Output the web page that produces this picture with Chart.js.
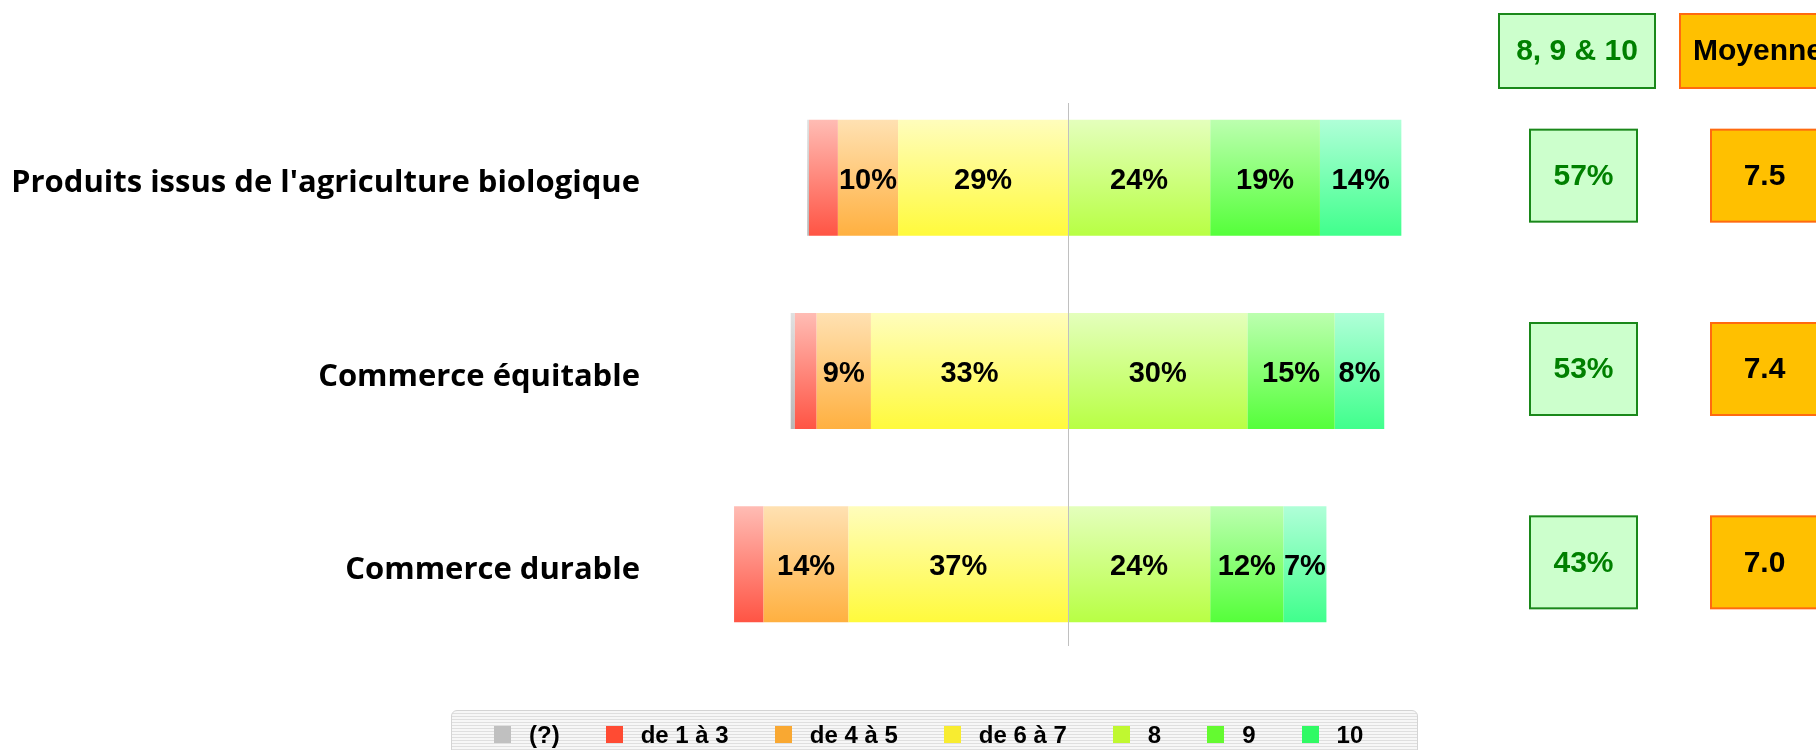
<!DOCTYPE html>
<html>
<head>
<meta charset="utf-8">
<script src="https://cdn.jsdelivr.net/npm/chart.js@4.4.1/dist/chart.umd.min.js"></script>
<style>
  body { margin: 0; background: #fff; }
  #wrap { position: relative; width: 1816px; height: 750px; overflow: hidden; }
  #legend {
    position: absolute; left: 451px; top: 710px; width: 967px; height: 60px;
    box-sizing: border-box; border: 1px solid #d4d4d4; border-radius: 6px 6px 0 0;
    background: repeating-linear-gradient(to bottom, #f7f7f7 0, #f7f7f7 2px, #dfdfdf 2px, #dfdfdf 3px);
    display: flex; align-items: flex-start; gap: 46px; padding: 15px 0 0 42px;
    font: bold 24px "Liberation Sans", Arial, sans-serif; color: #000;
  }
  .item { display: flex; align-items: center; gap: 18px; height: 17px; }
  .swatch { width: 17px; height: 17px; }
</style>
</head>
<body>
<div id="wrap">
  <canvas id="chart" width="1816" height="750"></canvas>
  <div id="legend"></div>
</div>
<script>
// Répartition des notes (en %) par thème
const categories = ["Produits issus de l'agriculture biologique", 'Commerce équitable', 'Commerce durable'];
const seriesNames = ['(?)', 'de 1 à 3', 'de 4 à 5', 'de 6 à 7', '8', '9', '10'];
const unknown  = [0.3, 0.7, 0];
const note1to3 = [4.9, 3.7, 5.0];
const note4to5 = [10.2, 9.2, 14.4];
const note6to7 = [28.8, 33.4, 37.2];
const note8    = [24.1, 30.4, 24.1];
const note9    = [18.6, 14.8, 12.4];
const note10   = [13.8, 8.4, 7.3];

// Colonnes de droite
const headerTop = '8, 9 & 10';
const headerAvg = 'Moyenne';
const top3 = [57, 53, 43];
const average = [7.5, 7.4, 7.0];

const xMin = -60, xMax = 60;

// couleurs : légende, haut et bas du dégradé des barres
const solid  = ['#c0c0c0', '#ff4b33', '#f9a832', '#f8ec30', '#c0f830', '#64fa30', '#30fa64'];
const lightC = ['#e0e0e0', '#ffbcb4', '#ffe1b2', '#fffdbc', '#e4ffbc', '#bcffaf', '#b0ffd8'];
const darkC  = ['#b8b8b8', '#ff5444', '#ffb040', '#fffa3c', '#b8ff44', '#55ff3a', '#40ff8c'];
const values = [unknown, note1to3, note4to5, note6to7, note8, note9, note10];
const side   = [-1, -1, -1, -1, 1, 1, 1];
// ordre d'empilement : du centre vers l'extérieur
const stackOrder = [3, 2, 1, 0, 4, 5, 6];

const BAR_PCT = 0.6;
const FONT = '"Liberation Sans", Arial, sans-serif';

// légende en bas
const legend = document.getElementById('legend');
seriesNames.forEach((name, k) => {
  const item = document.createElement('div');
  item.className = 'item';
  item.innerHTML = '<span class="swatch" style="background:' + solid[k] + '"></span><span>' + name + '</span>';
  legend.appendChild(item);
});

function barFill(k) {
  return ctx => {
    const y = ctx.chart.scales.y;
    if (!y || ctx.dataIndex === undefined) return solid[k];
    const c = y.getPixelForValue(ctx.dataIndex);
    const half = (y.bottom - y.top) / categories.length * BAR_PCT / 2;
    if (!isFinite(c) || !isFinite(half)) return solid[k];
    const g = ctx.chart.ctx.createLinearGradient(0, c - half, 0, c + half);
    g.addColorStop(0, lightC[k]);
    g.addColorStop(1, darkC[k]);
    return g;
  };
}

const datasets = stackOrder.map(k => ({
  label: seriesNames[k],
  data: values[k].map(v => v * side[k]),
  backgroundColor: barFill(k),
  borderWidth: 0,
  barPercentage: BAR_PCT,
  categoryPercentage: 1
}));

// trait vertical au centre + pourcentages dans les barres
const barLabels = {
  id: 'barLabels',
  afterDatasetsDraw(chart) {
    const c = chart.ctx;
    const x0 = Math.round(chart.scales.x.getPixelForValue(0)) + 0.5;
    const area = chart.chartArea;
    c.save();
    c.strokeStyle = '#c0c0c0';
    c.lineWidth = 1;
    c.beginPath();
    c.moveTo(x0, area.top + 22);
    c.lineTo(x0, area.bottom - 15);
    c.stroke();

    c.font = 'bold 29px ' + FONT;
    c.textAlign = 'center';
    c.textBaseline = 'middle';
    c.fillStyle = '#000';
    chart.data.datasets.forEach((ds, d) => {
      chart.getDatasetMeta(d).data.forEach((bar, i) => {
        const v = Math.round(Math.abs(ds.data[i]));
        if (v < 6) return;
        c.fillText(v + '%', (bar.x + bar.base) / 2, bar.y + 3);
      });
    });
    c.restore();
  }
};

function box(c, x, y, w, h, fill, stroke, text, color) {
  c.fillStyle = fill;
  c.fillRect(x, y, w, h);
  c.strokeStyle = stroke;
  c.lineWidth = 2;
  c.strokeRect(x, y, w, h);
  c.fillStyle = color;
  c.fillText(text, x + w / 2, y + h / 2 + 1);
}

// cases « 8, 9 & 10 » et « Moyenne »
const sideBoxes = {
  id: 'sideBoxes',
  afterDraw(chart) {
    const c = chart.ctx;
    const y = chart.scales.y;
    const r = chart.chartArea.right;
    c.save();
    c.font = 'bold 30px ' + FONT;
    c.textAlign = 'center';
    c.textBaseline = 'middle';
    box(c, r + 77, 14, 156, 74, '#ccffcc', '#1a881a', headerTop, '#008000');
    box(c, r + 258, 14, 156, 74, '#ffc000', '#ff6a10', headerAvg, '#000');
    categories.forEach((_, i) => {
      const cy = y.getPixelForValue(i);
      box(c, r + 108, cy - 48, 107, 92, '#ccffcc', '#1a881a', top3[i] + '%', '#008000');
      box(c, r + 289, cy - 48, 107, 92, '#ffc000', '#ff6a10', average[i].toFixed(1), '#000');
    });
    c.restore();
  }
};

new Chart(document.getElementById('chart'), {
  type: 'bar',
  data: { labels: categories, datasets },
  options: {
    indexAxis: 'y',
    responsive: false,
    animation: false,
    layout: { padding: { left: 14, right: 394, top: 81, bottom: 89 } },
    plugins: { legend: { display: false }, tooltip: { enabled: false } },
    scales: {
      x: { stacked: true, min: xMin, max: xMax, display: false },
      y: {
        stacked: true,
        grid: { display: false, drawTicks: false },
        border: { display: false },
        ticks: {
          padding: 74,
          labelOffset: 6,
          color: '#000',
          font: { family: 'Open Sans', weight: 'bold', size: 31 }
        },
        afterFit(scale) {
          // largeur fixe et pas de marge verticale liée aux libellés
          scale.width = 700;
          scale.paddingTop = 0;
          scale.paddingBottom = 0;
        }
      }
    }
  },
  plugins: [barLabels, sideBoxes]
});
</script>
</body>
</html>
